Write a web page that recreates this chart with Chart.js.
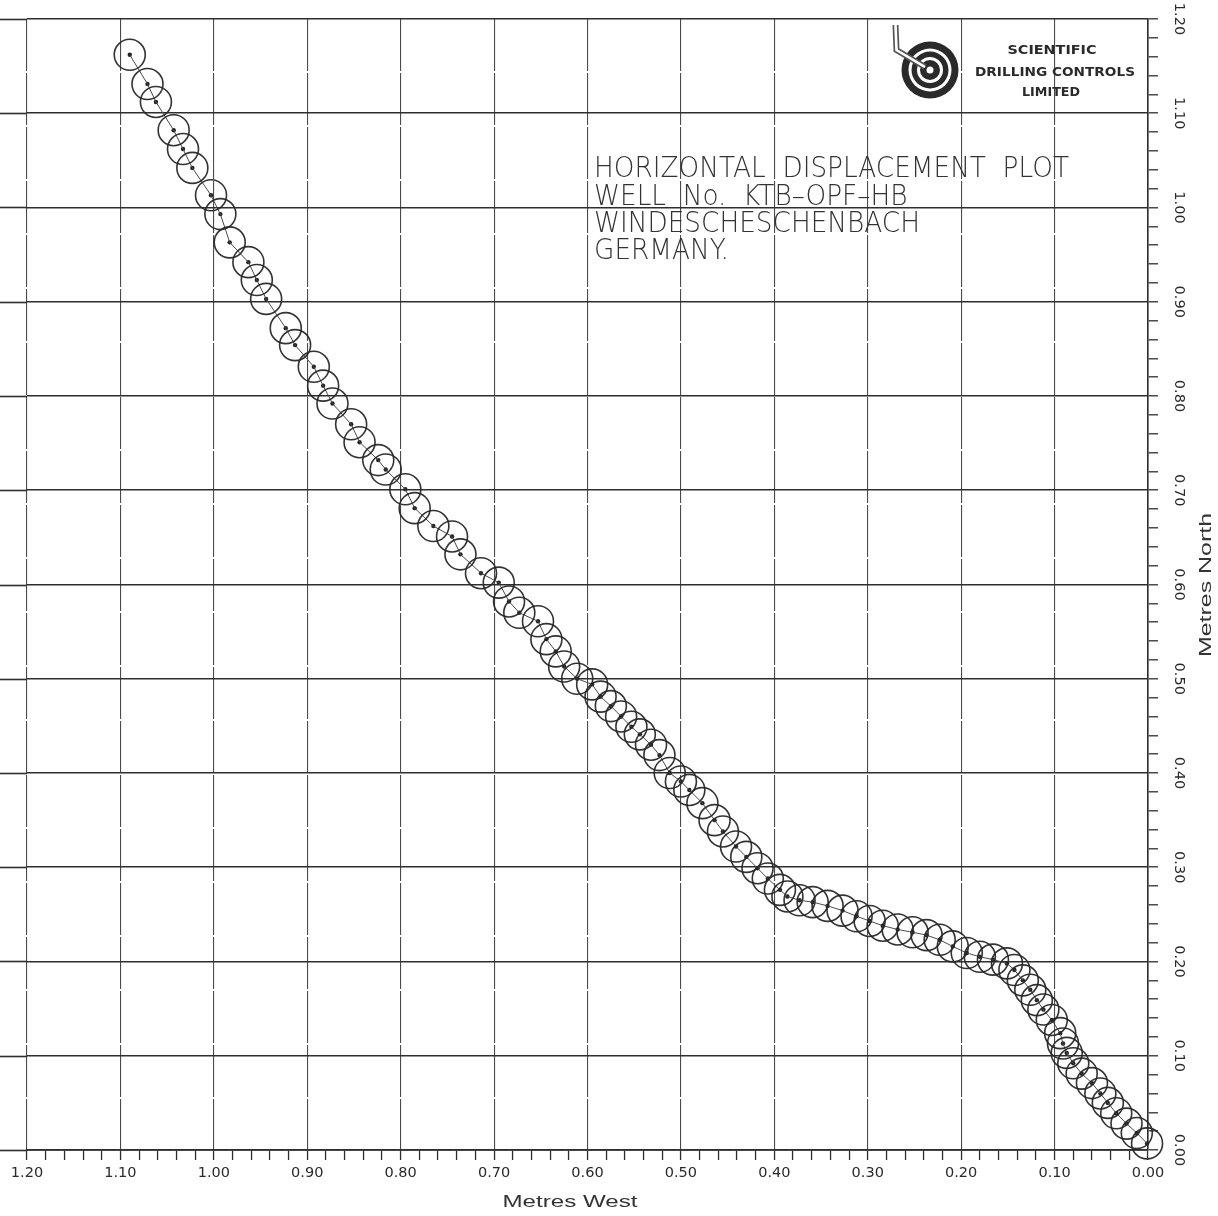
<!DOCTYPE html>
<html>
<head>
<meta charset="utf-8">
<title>Horizontal Displacement Plot – KTB-OPF-HB</title>
<script src="https://cdn.jsdelivr.net/npm/chart.js@4.4.1/dist/chart.umd.min.js"></script>
<style>
  html, body { margin: 0; padding: 0; background: #ffffff; }
  canvas { display: block; }
</style>
</head>
<body>
<canvas id="plot" width="1218" height="1216" style="width:1218px;height:1216px"></canvas>
<script>
// Survey stations, from the wellhead outward (metres west / metres north)
const westMetres = [
  0.001, 0.012, 0.023, 0.034, 0.043, 0.051, 0.060, 0.071, 0.080, 0.087,
  0.091, 0.094, 0.103, 0.112, 0.119, 0.126, 0.134, 0.143, 0.151, 0.166,
  0.180, 0.194, 0.209, 0.223, 0.237, 0.252, 0.268, 0.284, 0.298, 0.312,
  0.327, 0.343, 0.359, 0.373, 0.386, 0.394, 0.407, 0.418, 0.430, 0.441,
  0.455, 0.464, 0.477, 0.491, 0.500, 0.512, 0.523, 0.532, 0.544, 0.553,
  0.564, 0.575, 0.586, 0.595, 0.611, 0.625, 0.634, 0.644, 0.653, 0.673,
  0.684, 0.695, 0.714, 0.736, 0.745, 0.765, 0.785, 0.795, 0.816, 0.824,
  0.844, 0.853, 0.873, 0.883, 0.893, 0.913, 0.923, 0.944, 0.954, 0.963,
  0.983, 0.993, 1.003, 1.023, 1.033, 1.043, 1.062, 1.071, 1.090
];
const northMetres = [
  0.007, 0.018, 0.028, 0.039, 0.050, 0.060, 0.071, 0.081, 0.092, 0.103,
  0.113, 0.124, 0.138, 0.149, 0.159, 0.170, 0.180, 0.191, 0.198, 0.202,
  0.205, 0.209, 0.216, 0.223, 0.228, 0.231, 0.234, 0.238, 0.243, 0.248,
  0.254, 0.259, 0.263, 0.265, 0.269, 0.276, 0.288, 0.299, 0.311, 0.322,
  0.338, 0.350, 0.368, 0.382, 0.391, 0.400, 0.419, 0.430, 0.441, 0.449,
  0.460, 0.471, 0.481, 0.494, 0.500, 0.513, 0.529, 0.542, 0.561, 0.570,
  0.582, 0.602, 0.612, 0.632, 0.651, 0.662, 0.681, 0.701, 0.722, 0.732,
  0.751, 0.770, 0.792, 0.811, 0.831, 0.854, 0.872, 0.903, 0.923, 0.942,
  0.963, 0.993, 1.013, 1.042, 1.062, 1.082, 1.112, 1.131, 1.162
];

// Axis ranges and tick spacing (both axes share the same grid)
const axisMin = 0.0;
const axisMax = 1.2;
const minorStep = 0.02;
const majorStep = 0.10;

const xAxisTitle = 'Metres West';
const yAxisTitle = 'Metres North';
const titleLines = [
  'HORIZONTAL  DISPLACEMENT  PLOT',
  'WELL  No.  KTB–OPF–HB',
  'WINDESCHESCHENBACH',
  'GERMANY.'
];
const logoLines = ['SCIENTIFIC', 'DRILLING CONTROLS', 'LIMITED'];

const stations = westMetres.map((w, i) => ({ x: w, y: northMetres[i] }));

const INK = '#2e2e2e';
const isMajor = v => Math.abs(v / majorStep - Math.round(v / majorStep)) < 1e-6;
const majorOnly = col => c => (c.tick && isMajor(c.tick.value)) ? col : 'rgba(0,0,0,0)';
const tickLabel = v => isMajor(v) ? Number(v).toFixed(2) : '';

// Draws text so that it spans a given width
function fitText(ctx, text, x, y, width, align) {
  const w = ctx.measureText(text).width;
  const k = width / w;
  ctx.save();
  ctx.translate(x, y);
  ctx.scale(k, 1);
  ctx.textAlign = align || 'left';
  ctx.fillText(text, 0, 0);
  ctx.restore();
}

// Horizontal grid lines run out to the left edge of the sheet
const gridRunout = {
  id: 'gridRunout',
  beforeDatasetsDraw(chart) {
    const { ctx, chartArea, scales } = chart;
    ctx.save();
    ctx.strokeStyle = INK;
    ctx.lineWidth = 1.6;
    scales.y.ticks.forEach(t => {
      if (!isMajor(t.value)) return;
      const py = Math.round(scales.y.getPixelForValue(t.value)) + 0.5;
      ctx.beginPath();
      ctx.moveTo(0, py);
      ctx.lineTo(chartArea.left, py);
      ctx.stroke();
    });
    ctx.restore();
  }
};

// Plot heading, company mark and axis titles
const sheetText = {
  id: 'sheetText',
  afterDatasetsDraw(chart) {
    const { ctx } = chart;
    ctx.save();

    // heading block
    ctx.fillStyle = '#333333';
    ctx.font = '200 28px "DejaVu Sans"';
    ctx.textBaseline = 'alphabetic';
    const k = 475 / ctx.measureText(titleLines[0]).width;
    const baselines = [177, 205, 232, 259];
    titleLines.forEach((s, i) => {
      const w = ctx.measureText(s).width * k;
      fitText(ctx, s, 594, baselines[i], w, 'left');
    });

    // company mark: target with drill pipe
    const cx = 930, cy = 70;
    const rings = [[28.5, '#2a2a2a'], [21.5, '#ffffff'], [18.5, '#2a2a2a'], [13, '#ffffff'], [10, '#2a2a2a'], [3.5, '#ffffff']];
    rings.forEach(([r, c]) => {
      ctx.beginPath();
      ctx.arc(cx, cy, r, 0, Math.PI * 2);
      ctx.fillStyle = c;
      ctx.fill();
    });
    ctx.beginPath();
    ctx.moveTo(895.5, 25);
    ctx.lineTo(896.5, 50);
    ctx.lineTo(925, 67);
    ctx.lineJoin = 'miter';
    ctx.lineWidth = 6;
    ctx.strokeStyle = '#555555';
    ctx.stroke();
    ctx.lineWidth = 2.6;
    ctx.strokeStyle = '#ffffff';
    ctx.stroke();

    ctx.fillStyle = '#2a2a2a';
    ctx.font = 'bold 13px "DejaVu Sans"';
    fitText(ctx, logoLines[0], 1052, 54, 89, 'center');
    fitText(ctx, logoLines[1], 1055, 76, 160, 'center');
    fitText(ctx, logoLines[2], 1051, 96, 58, 'center');

    // axis titles
    ctx.fillStyle = '#333333';
    ctx.font = '17px "Liberation Sans"';
    fitText(ctx, xAxisTitle, 570, 1207, 135, 'center');
    ctx.save();
    ctx.translate(1211, 585);
    ctx.rotate(-Math.PI / 2);
    fitText(ctx, yAxisTitle, 0, 0, 144, 'center');
    ctx.restore();

    ctx.restore();
  }
};

const tickFont = { family: '"DejaVu Sans"', size: 14.5 };

new Chart(document.getElementById('plot'), {
  type: 'scatter',
  data: {
    datasets: [
      {
        // survey circles joined by the well path
        data: stations,
        showLine: true,
        borderColor: '#4a4a4a',
        borderWidth: 1,
        pointStyle: 'circle',
        pointRadius: 15.5,
        pointHoverRadius: 15.5,
        pointBorderColor: 'rgba(40,40,40,0.95)',
        pointBorderWidth: 1.6,
        pointBackgroundColor: 'rgba(0,0,0,0)',
        clip: false
      },
      {
        // station centre dots
        data: stations,
        showLine: false,
        pointStyle: 'circle',
        pointRadius: 2.2,
        pointHoverRadius: 2.2,
        pointBorderWidth: 0,
        pointBackgroundColor: '#222222',
        clip: false
      }
    ]
  },
  options: {
    responsive: false,
    animation: false,
    events: [],
    layout: { padding: { left: 27, top: 19, right: 0, bottom: 0 } },
    plugins: {
      legend: { display: false },
      tooltip: { enabled: false }
    },
    scales: {
      x: {
        type: 'linear',
        position: 'bottom',
        reverse: true,
        min: axisMin,
        max: axisMax,
        afterFit: s => { s.height = 66; },
        ticks: {
          stepSize: minorStep,
          autoSkip: false,
          maxRotation: 0,
          minRotation: 0,
          padding: 5,
          color: '#2a2a2a',
          font: tickFont,
          callback: tickLabel
        },
        grid: {
          color: majorOnly('rgba(55,55,55,0.9)'),
          lineWidth: 1.1,
          tickColor: INK,
          tickWidth: 1.3,
          tickLength: 10
        },
        border: { display: true, color: INK, width: 1.8, dash: [52, 2] }
      },
      y: {
        type: 'linear',
        position: 'right',
        min: axisMin,
        max: axisMax,
        afterFit: s => { s.width = 70; },
        ticks: {
          stepSize: minorStep,
          autoSkip: false,
          minRotation: -90,
          maxRotation: -90,
          crossAlign: 'center',
          padding: 5,
          color: '#2a2a2a',
          font: tickFont,
          callback: tickLabel
        },
        grid: {
          color: majorOnly(INK),
          lineWidth: 1.6,
          tickColor: INK,
          tickWidth: 1.3,
          tickLength: 10
        },
        border: { display: true, color: INK, width: 1.6 }
      }
    }
  },
  plugins: [gridRunout, sheetText]
});
</script>
</body>
</html>
